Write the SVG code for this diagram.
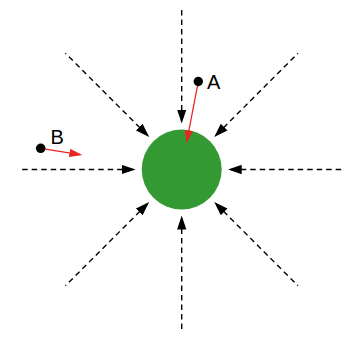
<svg xmlns="http://www.w3.org/2000/svg" width="347" height="337" viewBox="0 0 347 337">
  <style>
    .dash { stroke: #000; stroke-width: 1.4; stroke-dasharray: 5.5 4; fill: none; marker-start: url(#ah); }
    .vec { stroke: #e8251f; stroke-width: 1.3; fill: none; marker-end: url(#rh); }
    .lbl { font-family: "Liberation Sans", Arial, sans-serif; font-size: 20px; fill: #000; }
  </style>
  <defs>
    <marker id="ah" markerUnits="userSpaceOnUse" markerWidth="14" markerHeight="10" refX="9" refY="4" orient="auto-start-reverse" viewBox="0 0 12 8">
      <path d="M0,0 L12,4 L0,8 z" fill="#000"/>
    </marker>
    <marker id="rh" markerUnits="userSpaceOnUse" markerWidth="13" markerHeight="9" refX="9" refY="3.5" orient="auto" viewBox="0 0 11 7">
      <path d="M0,0 L11,3.5 L0,7 z" fill="#e8251f"/>
    </marker>
  </defs>
  <g id="center">
    <circle cx="181.7" cy="169.5" r="40" fill="#339933"/>
  </g>
  <g id="connectors">
    <line class="dash" x1="181.7" y1="120" x2="181.7" y2="7"/>
    <line class="dash" x1="181.7" y1="219" x2="181.7" y2="332"/>
    <line class="dash" x1="132.2" y1="169.5" x2="19.2" y2="169.5"/>
    <line class="dash" x1="231.2" y1="169.5" x2="344.2" y2="169.5"/>
    <line class="dash" x1="146.7" y1="134.5" x2="65.4" y2="53.2"/>
    <line class="dash" x1="216.7" y1="134.5" x2="298" y2="53.2"/>
    <line class="dash" x1="146.7" y1="204.5" x2="65.4" y2="285.8"/>
    <line class="dash" x1="216.7" y1="204.5" x2="298" y2="285.8"/>
    <line class="vec" x1="198.3" y1="81.5" x2="186.9" y2="141"/>
    <line class="vec" x1="40.7" y1="148.3" x2="80" y2="154.6"/>
  </g>
  <g id="pointA">
    <circle cx="198.3" cy="81.5" r="4.7" fill="#000"/>
    <text class="lbl" x="207" y="89">A</text>
  </g>
  <g id="pointB">
    <circle cx="40.7" cy="148.3" r="4.8" fill="#000"/>
    <text class="lbl" x="50.5" y="143.5">B</text>
  </g>
</svg>
